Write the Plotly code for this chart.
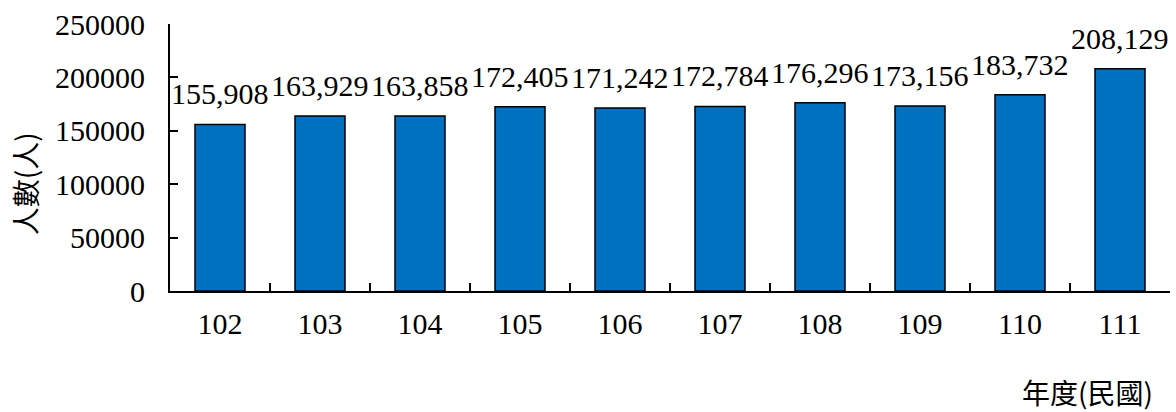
import plotly.graph_objects as go

# 年度（民國）與人數
years = ["102", "103", "104", "105", "106", "107", "108", "109", "110", "111"]
people = [155908, 163929, 163858, 172405, 171242, 172784, 176296, 173156, 183732, 208129]
y_ticks = [0, 50000, 100000, 150000, 200000, 250000]

serif = "Liberation Serif, Times New Roman, serif"
cjk = "Noto Sans CJK TC, Noto Sans CJK SC, sans-serif"

fig = go.Figure(
    go.Bar(
        x=years,
        y=people,
        marker=dict(color="#0070C0", line=dict(color="black", width=1.5)),
        hoverinfo="x+y",
    )
)

# 數值標籤置於長條上方（類別軸以索引定位）
value_labels = [
    dict(
        x=i,
        y=v,
        text=f"{v:,}",
        xref="x",
        yref="y",
        yanchor="bottom",
        yshift=12,
        showarrow=False,
        font=dict(family=serif, size=30, color="black"),
    )
    for i, v in enumerate(people)
]

fig.update_layout(
    width=1176,
    height=412,
    margin=dict(l=170, r=6, t=24, b=121),
    paper_bgcolor="white",
    plot_bgcolor="white",
    bargap=0.5,
    showlegend=False,
    xaxis=dict(
        type="category",
        range=[-0.5, 9.5],
        showline=True,
        linecolor="black",
        linewidth=2,
        ticks="inside",
        tickson="boundaries",
        ticklen=8,
        tickwidth=1.5,
        tickcolor="black",
        showgrid=False,
        ticklabelstandoff=5,
        tickfont=dict(family=serif, size=30, color="black"),
    ),
    yaxis=dict(
        range=[0, 250000],
        tickvals=y_ticks,
        ticktext=[str(v) for v in y_ticks],
        showline=True,
        linecolor="black",
        linewidth=2,
        ticks="inside",
        ticklen=8,
        tickwidth=1.5,
        tickcolor="black",
        showgrid=False,
        zeroline=False,
        ticklabelstandoff=17,
        tickfont=dict(family=serif, size=30, color="black"),
    ),
    annotations=value_labels
    + [
        dict(
            text="人數(人)",
            xref="paper",
            yref="paper",
            x=0,
            y=0.4,
            xanchor="center",
            yanchor="middle",
            xshift=-145,
            textangle=-90,
            showarrow=False,
            font=dict(family=cjk, size=28, color="black"),
        ),
        dict(
            text="年度(民國)",
            xref="paper",
            yref="paper",
            x=1.0,
            y=-0.38,
            xanchor="right",
            yanchor="middle",
            xshift=-15,
            showarrow=False,
            font=dict(family=cjk, size=28, color="black"),
        ),
    ],
)

fig.write_html("out.html")
